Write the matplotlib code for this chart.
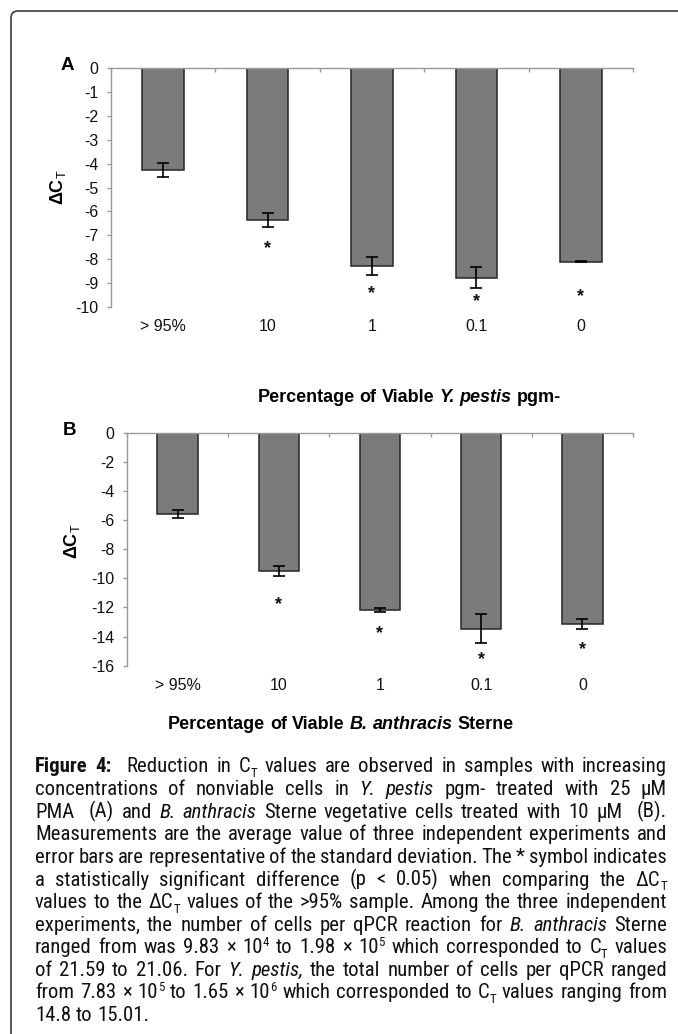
import re
import numpy as np
import matplotlib
matplotlib.use('Agg')
import matplotlib.pyplot as plt
from matplotlib import font_manager as fm
from matplotlib.font_manager import FontProperties
from matplotlib.patches import FancyBboxPatch
from matplotlib.transforms import IdentityTransform

# ---------------- data ----------------
categories = ['> 95%', '10', '1', '0.1', '0']

a_values = [-4.27, -6.36, -8.28, -8.78, -8.11]
a_errors = [0.30, 0.29, 0.37, 0.45, 0.02]
a_star_y = [None, -7.55, -9.44, -9.79, -9.58]

b_values = [-5.58, -9.47, -12.17, -13.46, -13.14]
b_errors = [0.27, 0.35, 0.14, 0.98, 0.32]
b_star_y = [None, -11.83, -13.78, -15.56, -14.87]

a_yticks = list(range(0, -11, -1))
b_yticks = list(range(0, -17, -2))

a_title = [('Percentage of Viable ', 'b'), ('Y. pestis', 'bi'), (' pgm-', 'b')]
b_title = [('Percentage of Viable ', 'b'), ('B. anthracis', 'bi'), (' Sterne', 'b')]

caption = [
    [('Figure 4:', 'b'), ('  Reduction in C', 'n'), ('T', 'sub'), (' values are observed in samples with increasing', 'n')],
    [('concentrations of nonviable cells in ', 'n'), ('Y. pestis', 'i'), (' pgm- treated with 25 \u00b5M', 'n')],
    [('PMA  (A) and ', 'n'), ('B. anthracis', 'i'), (' Sterne vegetative cells treated with 10 \u00b5M  (B).', 'n')],
    [('Measurements are the average value of three independent experiments and', 'n')],
    [('error bars are representative of the standard deviation. The * symbol indicates', 'n')],
    [('a statistically significant difference (p < 0.05) when comparing the \u0394C', 'n'), ('T', 'sub')],
    [('values to the \u0394C', 'n'), ('T', 'sub'), (' values of the >95% sample. Among the three independent', 'n')],
    [('experiments, the number of cells per qPCR reaction for ', 'n'), ('B. anthracis', 'i'), (' Sterne', 'n')],
    [('ranged from was 9.83 \u00d7 10', 'n'), ('4', 'sup'), (' to 1.98 \u00d7 10', 'n'), ('5', 'sup'),
     (' which corresponded to C', 'n'), ('T', 'sub'), (' values', 'n')],
    [('of 21.59 to 21.06. For ', 'n'), ('Y. pestis,', 'i'), (' the total number of cells per qPCR ranged', 'n')],
    [('from 7.83 \u00d7 10', 'n'), ('5', 'sup'), (' to 1.65 \u00d7 10', 'n'), ('6', 'sup'),
     (' which corresponded to C', 'n'), ('T', 'sub'), (' values ranging from', 'n')],
    [('14.8 to 15.01.', 'n')],
]

# ---------------- setup ----------------
W, H, DPI = 678, 1034, 100
plt.rcParams['font.family'] = ['Liberation Sans', 'DejaVu Sans']
plt.rcParams['mathtext.fontset'] = 'custom'
plt.rcParams['mathtext.rm'] = 'Liberation Sans'
plt.rcParams['mathtext.bf'] = 'Liberation Sans:bold'
plt.rcParams['mathtext.it'] = 'Liberation Sans:italic'


def _is_condensed(f):
    st = f.stretch
    if isinstance(st, str):
        return st in ('condensed', 'semi-condensed', 'extra-condensed', 'ultra-condensed')
    try:
        return int(st) < 500
    except Exception:
        return False


# look for a narrow sans family (caption is set in a narrow face)
CAP_FAMILY, CAP_STRETCH = 'Liberation Sans', 'normal'
_found = []
for f in fm.fontManager.ttflist:
    if 'Narrow' in f.name or 'Condensed' in f.name:
        _found.append((f.name, 'normal'))
    elif _is_condensed(f):
        _found.append((f.name, 'condensed'))
_pref = ['Liberation Sans Narrow', 'Arial Narrow', 'Roboto Condensed', 'Noto Sans', 'Open Sans Condensed',
         'Noto Sans Condensed', 'DejaVu Sans Condensed', 'DejaVu Sans']
for p in _pref:
    hit = [c for c in _found if c[0] == p]
    if hit:
        CAP_FAMILY, CAP_STRETCH = hit[0]
        break
NARROW = CAP_FAMILY != 'Liberation Sans'

fig = plt.figure(figsize=(W / DPI, H / DPI), dpi=DPI)
fig.patch.set_facecolor('white')
renderer = fig.canvas.get_renderer()


def fx(x):
    return x / W


def fy(y):
    return 1 - y / H


STY = {
    'n': ('normal', 'normal', 1.0, 0.0),
    'b': ('bold', 'normal', 1.0, 0.0),
    'i': ('normal', 'italic', 1.0, 0.0),
    'bi': ('bold', 'italic', 1.0, 0.0),
    'sub': ('normal', 'normal', 0.62, -0.22),
    'sup': ('normal', 'normal', 0.62, 0.36),
}


def fprop(style, family, size, stretch='normal'):
    w, s, k, _ = STY[style]
    return FontProperties(family=[family, 'DejaVu Sans'], weight=w, style=s, size=size * k, stretch=stretch)


def text_width(s, fp):
    t = fig.text(0, 0, s, fontproperties=fp)
    w = t.get_window_extent(renderer).width
    t.remove()
    return w


def tokenize(runs):
    words, cur, gap = [], None, 0
    for text, st in runs:
        for p in re.split(r'( +)', text):
            if not p:
                continue
            if p[0] == ' ':
                if cur is not None:
                    words.append(cur)
                    cur = None
                gap += len(p)
            else:
                if cur is None:
                    cur = {'gap': gap, 'segs': []}
                    gap = 0
                cur['segs'].append((p, st))
    if cur is not None:
        words.append(cur)
    return words


def word_width(word, family, size, stretch='normal'):
    return sum(text_width(s, fprop(st, family, size, stretch)) for s, st in word['segs'])


def space_width(family, size, style='n', stretch='normal'):
    fp = fprop(style, family, size, stretch)
    return text_width('x x', fp) - text_width('xx', fp)


def draw_words(words, x0, baseline, family, size, gap_unit, color='black', stretch='normal'):
    x = x0
    px = size * DPI / 72.0
    for i, wd in enumerate(words):
        if i > 0:
            x += gap_unit * max(wd['gap'], 1)
        for s, st in wd['segs']:
            fp = fprop(st, family, size, stretch)
            dy = STY[st][3] * px
            fig.text(fx(x), fy(baseline - dy), s, fontproperties=fp, ha='left', va='baseline', color=color)
            x += text_width(s, fp)


def draw_centered(runs, cx, baseline, family, size):
    words = tokenize(runs)
    sw = space_width(family, size, 'b')
    total = sum(word_width(w, family, size) for w in words) + sw * sum(max(w['gap'], 1) for w in words[1:])
    draw_words(words, cx - total / 2, baseline, family, size, sw)


# ---------------- border ----------------
border = FancyBboxPatch((11, -60), 800, H - 11 + 60, boxstyle='round,pad=0,rounding_size=7',
                        transform=IdentityTransform(), facecolor='none', edgecolor='#3a3a3a',
                        linewidth=1.2, clip_on=False)
fig.add_artist(border)

# ---------------- panels ----------------
BAR_COLOR = '#7b7b7b'
EDGE = '#262626'
SPINE = '#9a9a9a'


def panel(ax, values, errors, stars, yticks):
    x = np.arange(len(categories))
    ax.bar(x, values, width=0.4, color=BAR_COLOR, edgecolor=EDGE, linewidth=1.1, zorder=2)
    ax.errorbar(x, values, yerr=errors, fmt='none', ecolor='black', elinewidth=1.2,
                capsize=4.5, capthick=1.2, zorder=3)
    for xi, sy in zip(x, stars):
        if sy is not None:
            ax.text(xi, sy, '*', ha='center', va='center', fontsize=13, fontweight='bold', color='#111111')
    ax.set_xlim(-0.5, len(categories) - 0.5)
    ax.set_ylim(min(yticks), 0)
    ax.set_yticks(yticks)
    ax.set_yticklabels([str(t) for t in yticks])
    ax.set_xticks(x)
    ax.set_xticklabels(categories)
    ax.set_xticks(np.arange(-0.5, len(categories), 1.0), minor=True)
    for s in ['bottom', 'right']:
        ax.spines[s].set_visible(False)
    for s in ['left', 'top']:
        ax.spines[s].set_color(SPINE)
        ax.spines[s].set_linewidth(1.0)
    ax.tick_params(axis='y', which='major', direction='out', length=3, width=1.0, color=SPINE,
                   labelsize=11.5, pad=6, labelcolor='#111111')
    ax.tick_params(axis='x', which='major', bottom=True, top=False, length=0, pad=9,
                   labelsize=11.5, labelcolor='#111111')
    ax.tick_params(axis='x', which='minor', bottom=False, top=True, direction='in', length=3,
                   width=1.0, color=SPINE)
    ax.patch.set_alpha(0)


axA = fig.add_axes([fx(111), fy(306.7), (633 - 111) / W, (306.7 - 68.3) / H])
panel(axA, a_values, a_errors, a_star_y, a_yticks)
axB = fig.add_axes([fx(127), fy(665.7), (633 - 127) / W, (665.7 - 432.7) / H])
panel(axB, b_values, b_errors, b_star_y, b_yticks)

# panel letters
fig.text(fx(67), fy(66), 'A', ha='center', va='center', fontsize=13.5, fontweight='bold')
fig.text(fx(70), fy(430), 'B', ha='center', va='center', fontsize=13.5, fontweight='bold')

# y labels
ylab = r'$\mathbf{\Delta C}_{\mathrm{T}}$'
fig.text(fx(58), fy(187), ylab, rotation=90, ha='center', va='center', fontsize=13)
fig.text(fx(72), fy(541), ylab, rotation=90, ha='center', va='center', fontsize=13)

# x titles
draw_centered(a_title, 409, 402, 'Liberation Sans', 13)
draw_centered(b_title, 341, 729, 'Liberation Sans', 13)

# ---------------- caption ----------------
LEFT, RIGHT = 35, 667
LINE_W = RIGHT - LEFT
cap_size = 15.5 if NARROW else 12.5
tok_lines = [tokenize(r) for r in caption]
sw0 = space_width(CAP_FAMILY, cap_size, stretch=CAP_STRETCH)
nat = []
for words in tok_lines[:-1]:
    ww = sum(word_width(w, CAP_FAMILY, cap_size, CAP_STRETCH) for w in words)
    ng = sum(max(w['gap'], 1) for w in words[1:])
    nat.append(ww + 0.85 * sw0 * ng)
cap_size = cap_size * min(1.0, LINE_W / max(nat))

base0, step = 772.5, 22.6
for i, words in enumerate(tok_lines):
    ww = sum(word_width(w, CAP_FAMILY, cap_size, CAP_STRETCH) for w in words)
    ng = sum(max(w['gap'], 1) for w in words[1:])
    if i < len(tok_lines) - 1 and ng > 0:
        gap_unit = (LINE_W - ww) / ng
    else:
        gap_unit = space_width(CAP_FAMILY, cap_size, stretch=CAP_STRETCH)
    draw_words(words, LEFT, base0 + step * i, CAP_FAMILY, cap_size, gap_unit, color='#111111',
               stretch=CAP_STRETCH)

fig.savefig('out.png', dpi=DPI, facecolor='white')
